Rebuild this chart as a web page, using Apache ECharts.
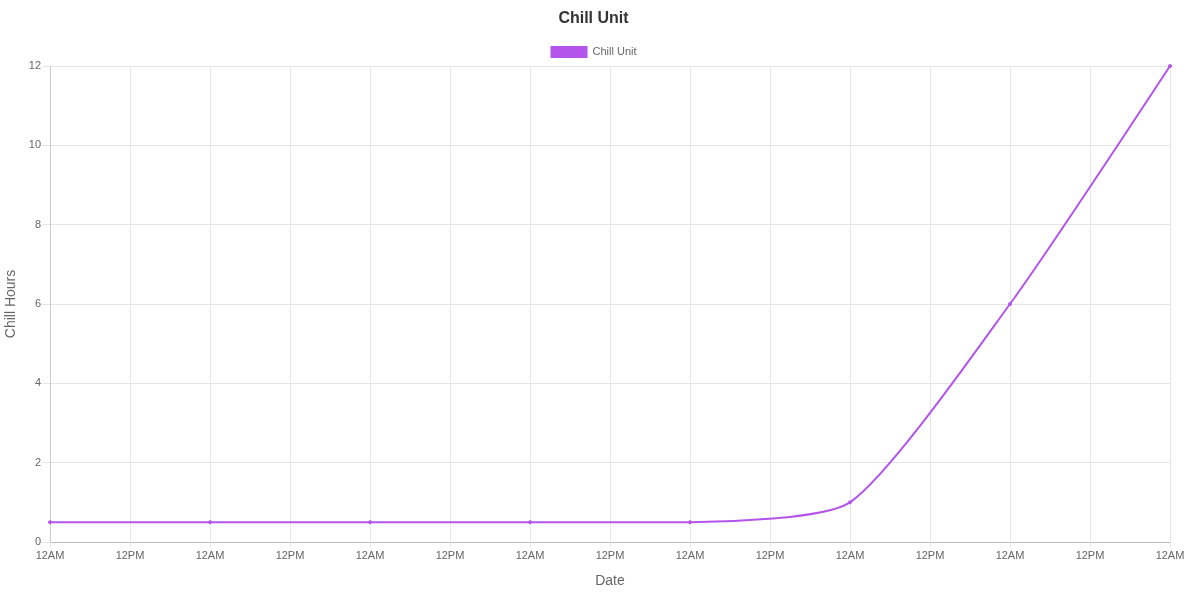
<!DOCTYPE html>
<html>
<head>
<meta charset="utf-8">
<script src="https://cdn.jsdelivr.net/npm/echarts@6/dist/echarts.min.js"></script>
<style>
html,body{margin:0;padding:0;background:#fff;}
#c{width:1187px;height:593px;}
</style>
</head>
<body>
<div id="c"></div>
<script>
// hours since start (one point per midnight)
const hoursOffset = [0, 24, 48, 72, 96, 120, 144, 168];
const chillUnit = [0.5, 0.5, 0.5, 0.5, 0.5, 1, 6, 12];
const seriesName = 'Chill Unit';

const chart = echarts.init(document.getElementById('c'));
const font = 'Liberation Sans, Arial, Helvetica, sans-serif';
chart.setOption({
  animation: false,
  textStyle: { fontFamily: font },
  title: {
    text: 'Chill Unit', left: 'center', top: 6,
    textStyle: { fontSize: 16, fontWeight: 'bold', color: '#333', fontFamily: font }
  },
  legend: {
    top: 46, left: 'center', icon: 'rect', itemWidth: 37, itemHeight: 12, itemGap: 10,
    padding: 0,
    textStyle: { fontSize: 11, color: '#666', fontFamily: font },
    data: [seriesName]
  },
  grid: { left: 50, right: 17, top: 66, bottom: 51, containLabel: false, outerBoundsMode: 'none' },
  xAxis: {
    type: 'value', min: 0, max: 168, interval: 12,
    name: 'Date', nameLocation: 'middle', nameGap: 32,
    nameTextStyle: { fontSize: 14, color: '#666', fontFamily: font },
    axisLine: { show: true, lineStyle: { color: '#bbb' } },
    axisTick: { show: true, length: 5, lineStyle: { color: '#e5e5e5' } },
    axisLabel: {
      fontSize: 11, color: '#666', margin: 8, fontFamily: font,
      formatter: v => (v % 24 === 0 ? '12AM' : '12PM')
    },
    splitLine: { show: true, lineStyle: { color: '#e5e5e5' } }
  },
  yAxis: {
    type: 'value', min: 0, max: 12, interval: 2,
    name: 'Chill Hours', nameLocation: 'middle', nameGap: 29,
    nameTextStyle: { fontSize: 14, color: '#666', fontFamily: font },
    axisLine: { show: true, lineStyle: { color: '#ccc' } },
    axisTick: { show: true, length: 8, lineStyle: { color: '#e5e5e5' } },
    axisLabel: { fontSize: 11, color: '#666', margin: 9, fontFamily: font },
    splitLine: { show: true, lineStyle: { color: '#e5e5e5' } }
  },
  series: [{
    name: seriesName, type: 'line', smooth: 0.2,
    data: hoursOffset.map((h, i) => [h, chillUnit[i]]),
    symbol: 'circle', symbolSize: 3,
    lineStyle: { color: '#b355ea', width: 2 },
    itemStyle: { color: '#b355ea', borderColor: '#b355ea' }
  }]
});
</script>
</body>
</html>
